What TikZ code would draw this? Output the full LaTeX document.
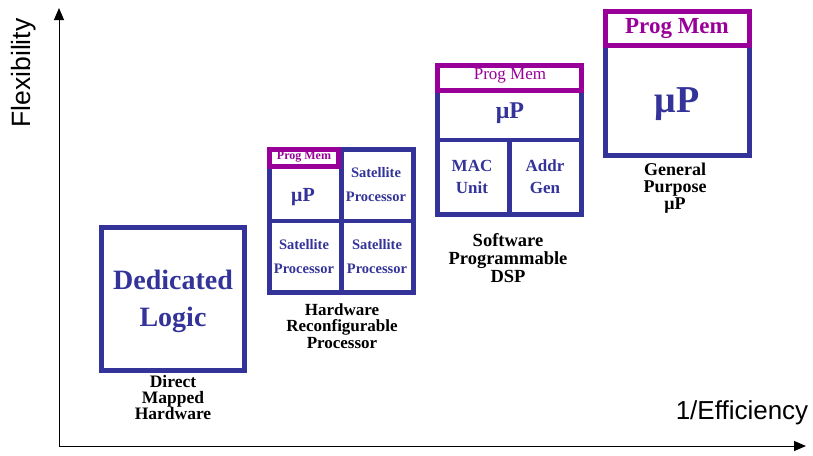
\documentclass[tikz,border=0pt]{standalone}
\usepackage{fontspec}
\setmainfont{Liberation Serif}
\newfontfamily\arialf{Liberation Sans}
\usetikzlibrary{arrows.meta}
\definecolor{boxblue}{HTML}{333399}
\definecolor{progpurple}{HTML}{990099}
\newcommand{\fsz}[2]{\fontsize{#1}{#2}\selectfont}
\tikzset{
  blockbox/.style={draw=boxblue, line width=4.6pt, fill=white, inner sep=0pt},
  divider/.style={draw=boxblue, line width=4.6pt},
  membox/.style={draw=progpurple, line width=4.6pt, fill=white, inner sep=0pt},
  bluetext/.style={text=boxblue, font=\bfseries, align=center, inner sep=0pt},
  memtext/.style={text=progpurple, align=center, inner sep=0pt},
  captext/.style={text=black, align=center, inner sep=0pt},
  axis/.style={line width=1pt, -{Triangle[length=12pt,width=10pt]}},
  axislabel/.style={font=\arialf, inner sep=0pt}
}
\begin{document}
\begin{tikzpicture}[x=1pt,y=-1pt]
\useasboundingbox (0,0) rectangle (813,455);
% axes
\coordinate (o) at (59,446);
\coordinate (ytop) at (59,8);
\coordinate (xend) at (806,446);
\draw[axis] (o) -- (ytop);
\draw[axis] (o) -- (xend);
\node[axislabel, rotate=90, font=\arialf\fsz{26.5}{30}] (flex) at (24,73) {Flexibility};
\node[axislabel, font=\arialf\fsz{26}{30}] (eff) at (742,413) {1/Efficiency};

% Dedicated logic
\node[blockbox, minimum width=143.5pt, minimum height=143.5pt] (dl) at (173,299) {};
\node[bluetext, font=\bfseries\fsz{28}{37}] (dltxt) at (173,301) {Dedicated\\Logic};
\node[captext, font=\bfseries\fsz{17.5}{16}] (dlcap) at (173,398) {Direct\\Mapped\\Hardware};

% Hardware reconfigurable processor
\node[blockbox, minimum width=144.5pt, minimum height=143.5pt] (hrp) at (341.5,221) {};
\draw[divider] (hrp.north) -- (hrp.south);
\draw[divider] (hrp.west) -- (hrp.east);
\node[membox, minimum width=69.5pt, minimum height=17.5pt] (hrpmem) at (304,158) {};
\node[memtext, font=\bfseries\fsz{12}{14}] (hrpmemtxt) at (304,157) {Prog Mem};
\node[bluetext, font=\bfseries\fsz{20}{24}] (hrpup) at (303,197) {μP};
\node[bluetext, font=\bfseries\fsz{14.5}{24}] (sat1) at (376,185) {Satellite\\Processor};
\node[bluetext, font=\bfseries\fsz{14.5}{24}] (sat2) at (304,257) {Satellite\\Processor};
\node[bluetext, font=\bfseries\fsz{14.5}{24}] (sat3) at (377,257) {Satellite\\Processor};
\node[captext, font=\bfseries\fsz{17}{16.5}] (hrpcap) at (342,326) {Hardware\\Reconfigurable\\Processor};

% Software programmable DSP
\node[blockbox, minimum width=144.5pt, minimum height=149.5pt] (dsp) at (509.5,140) {};
\draw[divider] (dsp.west) -- (dsp.east);
\draw[divider] (dsp.center) -- (dsp.south);
\node[membox, minimum width=144.5pt, minimum height=25.5pt] (dspmem) at (509.5,78) {};
\node[memtext, font=\fsz{17}{20}] (dspmemtxt) at (510,76) {Prog Mem};
\node[bluetext, font=\bfseries\fsz{24}{28}] (dspup) at (510,113) {μP};
\node[bluetext, font=\bfseries\fsz{17}{22}] (mac) at (472,177) {MAC\\Unit};
\node[bluetext, font=\bfseries\fsz{17}{22}] (addr) at (545,177) {Addr\\Gen};
\node[captext, font=\bfseries\fsz{18.5}{18}] (dspcap) at (508,258) {Software\\Programmable\\DSP};

% General purpose uP
\node[blockbox, minimum width=144.5pt, minimum height=144.5pt] (gp) at (677.5,83.5) {};
\node[membox, minimum width=144.5pt, minimum height=34.5pt] (gpmem) at (677.5,28.5) {};
\node[memtext, font=\bfseries\fsz{23}{26}] (gpmemtxt) at (677,29) {Prog Mem};
\node[bluetext, font=\bfseries\fsz{38}{42}] (gpup) at (677,104) {μP};
\node[captext, font=\bfseries\fsz{18}{17}] (gpcap) at (675,188) {General\\Purpose\\μP};
\end{tikzpicture}
\end{document}
